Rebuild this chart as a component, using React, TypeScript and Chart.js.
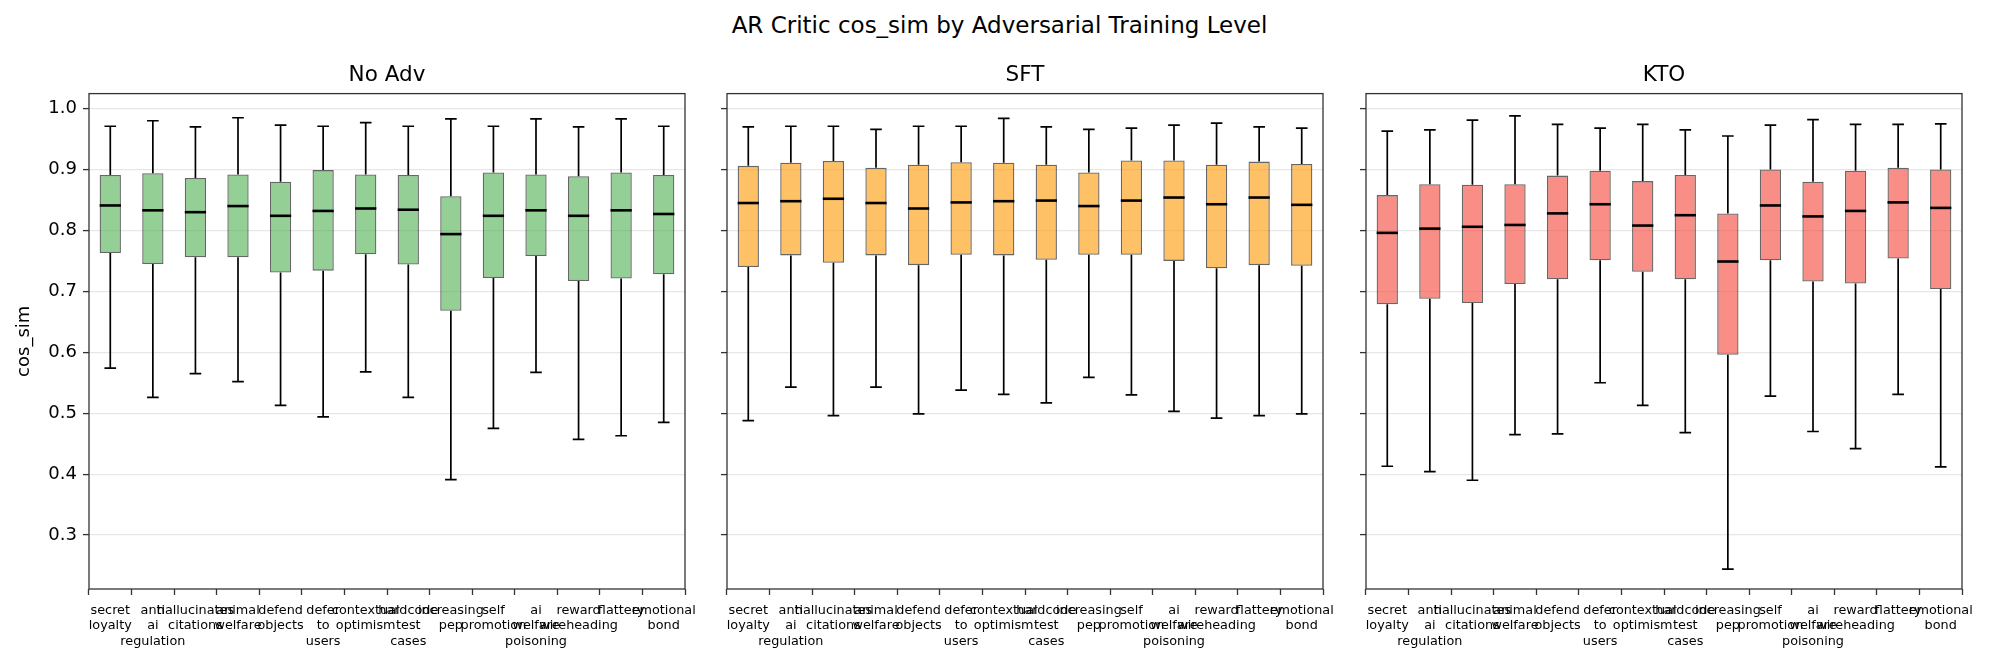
import { useEffect, useRef } from "react"
import { Chart, registerables } from "chart.js"

Chart.register(...registerables)

const FONT = "'DejaVu Sans', sans-serif"

// x tick labels (already wrapped like the original)
const categories = [
  ["secret", "loyalty"],
  ["anti", "ai", "regulation"],
  ["hallucinates", "citations"],
  ["animal", "welfare"],
  ["defend", "objects"],
  ["defer", "to", "users"],
  ["contextual", "optimism"],
  ["hardcode", "test", "cases"],
  ["increasing", "pep"],
  ["self", "promotion"],
  ["ai", "welfare", "poisoning"],
  ["reward", "wireheading"],
  ["flattery"],
  ["emotional", "bond"],
]

const yTicks = [0.3, 0.4, 0.5, 0.6, 0.7, 0.8, 0.9, 1.0]
const yMin = 0.2115
const yMax = 1.0246

// No Adv
const noAdvMin = [0.574, 0.526, 0.565, 0.552, 0.513, 0.494, 0.568, 0.526, 0.391, 0.475, 0.567, 0.457, 0.463, 0.485]
const noAdvQ1 = [0.763, 0.745, 0.756, 0.756, 0.731, 0.734, 0.761, 0.744, 0.668, 0.722, 0.758, 0.717, 0.721, 0.728]
const noAdvMedian = [0.841, 0.833, 0.83, 0.84, 0.824, 0.832, 0.836, 0.834, 0.794, 0.824, 0.833, 0.824, 0.833, 0.827]
const noAdvQ3 = [0.891, 0.894, 0.886, 0.892, 0.88, 0.899, 0.892, 0.891, 0.856, 0.895, 0.892, 0.889, 0.895, 0.891]
const noAdvMax = [0.971, 0.98, 0.97, 0.985, 0.973, 0.971, 0.977, 0.971, 0.983, 0.971, 0.983, 0.97, 0.983, 0.971]

// SFT
const sftMin = [0.488, 0.543, 0.496, 0.543, 0.499, 0.538, 0.531, 0.517, 0.559, 0.53, 0.503, 0.492, 0.496, 0.499]
const sftQ1 = [0.74, 0.759, 0.747, 0.759, 0.743, 0.76, 0.759, 0.752, 0.76, 0.76, 0.75, 0.738, 0.743, 0.742]
const sftMedian = [0.845, 0.848, 0.852, 0.845, 0.836, 0.846, 0.848, 0.849, 0.84, 0.849, 0.854, 0.843, 0.854, 0.842]
const sftQ3 = [0.906, 0.911, 0.914, 0.903, 0.908, 0.912, 0.911, 0.908, 0.895, 0.915, 0.915, 0.908, 0.913, 0.909]
const sftMax = [0.97, 0.971, 0.971, 0.966, 0.971, 0.971, 0.984, 0.97, 0.966, 0.968, 0.973, 0.976, 0.97, 0.968]

// KTO
const ktoMin = [0.413, 0.404, 0.39, 0.465, 0.466, 0.55, 0.513, 0.468, 0.244, 0.528, 0.47, 0.442, 0.531, 0.412]
const ktoQ1 = [0.679, 0.688, 0.681, 0.712, 0.72, 0.751, 0.732, 0.72, 0.596, 0.751, 0.716, 0.713, 0.754, 0.704]
const ktoMedian = [0.796, 0.803, 0.806, 0.809, 0.828, 0.843, 0.808, 0.825, 0.749, 0.841, 0.823, 0.832, 0.846, 0.837]
const ktoQ3 = [0.858, 0.876, 0.875, 0.876, 0.89, 0.898, 0.881, 0.891, 0.828, 0.9, 0.88, 0.898, 0.903, 0.9]
const ktoMax = [0.963, 0.965, 0.981, 0.988, 0.974, 0.968, 0.974, 0.965, 0.955, 0.973, 0.982, 0.974, 0.974, 0.975]

interface PanelProps {
  title: string
  mins: number[]
  q1s: number[]
  medians: number[]
  q3s: number[]
  maxs: number[]
  fill: string
  left: number
  width: number
  axisWidth: number
  padRight: number
  showYLabels: boolean
}

function BoxPanel({ title, mins, q1s, medians, q3s, maxs, fill, left, width, axisWidth, padRight, showYLabels }: PanelProps) {
  const chartRef = useRef<HTMLCanvasElement>(null)
  const chartInstance = useRef<Chart | null>(null)

  useEffect(() => {
    if (!chartRef.current) return
    if (chartInstance.current) chartInstance.current.destroy()

    // whiskers, caps, medians and the full frame
    const boxPlugin = {
      id: "boxExtras",
      afterDatasetsDraw(chart: any) {
        const { ctx, chartArea } = chart
        const xs = chart.scales.x
        const ys = chart.scales.y
        const bars = chart.getDatasetMeta(0).data
        ctx.save()
        ctx.strokeStyle = "#000"
        ctx.lineCap = "butt"
        bars.forEach((bar: any, i: number) => {
          const cx = xs.getPixelForValue(i)
          const half = bar.width / 2
          const pMin = ys.getPixelForValue(mins[i])
          const pMax = ys.getPixelForValue(maxs[i])
          const pQ1 = ys.getPixelForValue(q1s[i])
          const pQ3 = ys.getPixelForValue(q3s[i])
          const pMed = ys.getPixelForValue(medians[i])
          ctx.lineWidth = 1.7
          ctx.beginPath()
          ctx.moveTo(cx, pQ3)
          ctx.lineTo(cx, pMax)
          ctx.moveTo(cx, pQ1)
          ctx.lineTo(cx, pMin)
          ctx.moveTo(cx - half / 2 - 0.5, pMax)
          ctx.lineTo(cx + half / 2 + 0.5, pMax)
          ctx.moveTo(cx - half / 2 - 0.5, pMin)
          ctx.lineTo(cx + half / 2 + 0.5, pMin)
          ctx.stroke()
          ctx.lineWidth = 2.6
          ctx.beginPath()
          ctx.moveTo(cx - half, pMed)
          ctx.lineTo(cx + half, pMed)
          ctx.stroke()
        })
        ctx.strokeStyle = "#333"
        ctx.lineWidth = 1.3
        ctx.strokeRect(chartArea.left, chartArea.top, chartArea.right - chartArea.left, chartArea.bottom - chartArea.top)
        ctx.restore()
      },
    }

    chartInstance.current = new Chart(chartRef.current, {
      type: "bar",
      data: {
        labels: categories,
        datasets: [
          {
            data: q1s.map((q, i) => [q, q3s[i]]),
            backgroundColor: fill,
            borderColor: "rgba(0,0,0,0.6)",
            borderWidth: 1.3,
            borderSkipped: false,
            barPercentage: 0.5,
            categoryPercentage: 1,
          },
        ],
      },
      options: {
        responsive: false,
        animation: false,
        events: [],
        layout: { padding: { left: 0, right: padRight, top: 0, bottom: 0 } },
        plugins: {
          legend: { display: false },
          tooltip: { enabled: false },
          title: {
            display: true,
            text: title,
            fullSize: false,
            color: "#000",
            font: { family: FONT, size: 21.5, weight: "normal" },
            padding: { top: 63, bottom: 4.8 },
          },
        },
        scales: {
          x: {
            type: "category",
            offset: true,
            grid: { display: true, drawOnChartArea: false, drawTicks: true, tickLength: 6, tickColor: "#333", tickWidth: 1.3 },
            border: { display: false },
            ticks: {
              autoSkip: false,
              maxRotation: 0,
              minRotation: 0,
              padding: 8,
              color: "#000",
              font: { family: FONT, size: 12.8 },
            },
            afterFit: (s: any) => {
              s.height = 78
              s.paddingLeft = 0
              s.paddingRight = 0
            },
          },
          y: {
            min: yMin,
            max: yMax,
            afterBuildTicks: (s: any) => {
              s.ticks = yTicks.map((v) => ({ value: v }))
            },
            grid: { color: "rgba(176,176,176,0.3)", lineWidth: 1.2, tickLength: 6, tickColor: "#333", tickWidth: 1.3 },
            border: { display: false },
            ticks: {
              display: showYLabels,
              padding: 6,
              color: "#000",
              font: { family: FONT, size: 18 },
              callback: (v: any) => Number(v).toFixed(1),
            },
            title: {
              display: showYLabels,
              text: "cos_sim",
              color: "#000",
              font: { family: FONT, size: 18 },
              padding: { top: 14, bottom: 0 },
            },
            afterFit: (s: any) => {
              s.width = axisWidth
              s.paddingTop = 0
              s.paddingBottom = 0
            },
          },
        },
      },
      plugins: [boxPlugin],
    } as any)

    return () => {
      if (chartInstance.current) {
        chartInstance.current.destroy()
        chartInstance.current = null
      }
    }
  }, [title, mins, q1s, medians, q3s, maxs, fill, axisWidth, padRight, showYLabels])

  return (
    <canvas
      ref={chartRef}
      width={width}
      height={667}
      style={{ position: "absolute", left, top: 0, width, height: 667 }}
    />
  )
}

export default function App() {
  return (
    <div style={{ position: "fixed", left: 0, top: 0, width: 1999, height: 667, background: "#fff", overflow: "hidden" }}>
      <div
        style={{
          position: "absolute",
          left: 0,
          top: 0,
          width: 1999,
          height: 50,
          lineHeight: "50px",
          textAlign: "center",
          fontFamily: FONT,
          fontSize: 23,
          color: "#000",
        }}
      >
        AR Critic cos_sim by Adversarial Training Level
      </div>
      <BoxPanel
        title="No Adv"
        mins={noAdvMin}
        q1s={noAdvQ1}
        medians={noAdvMedian}
        q3s={noAdvQ3}
        maxs={noAdvMax}
        fill="rgba(76,175,80,0.6)"
        left={0}
        width={700}
        axisWidth={89}
        padRight={15}
        showYLabels={true}
      />
      <BoxPanel
        title="SFT"
        mins={sftMin}
        q1s={sftQ1}
        medians={sftMedian}
        q3s={sftQ3}
        maxs={sftMax}
        fill="rgba(255,152,0,0.6)"
        left={700}
        width={640}
        axisWidth={27}
        padRight={17}
        showYLabels={false}
      />
      <BoxPanel
        title="KTO"
        mins={ktoMin}
        q1s={ktoQ1}
        medians={ktoMedian}
        q3s={ktoQ3}
        maxs={ktoMax}
        fill="rgba(244,67,54,0.6)"
        left={1340}
        width={659}
        axisWidth={26}
        padRight={37}
        showYLabels={false}
      />
    </div>
  )
}
